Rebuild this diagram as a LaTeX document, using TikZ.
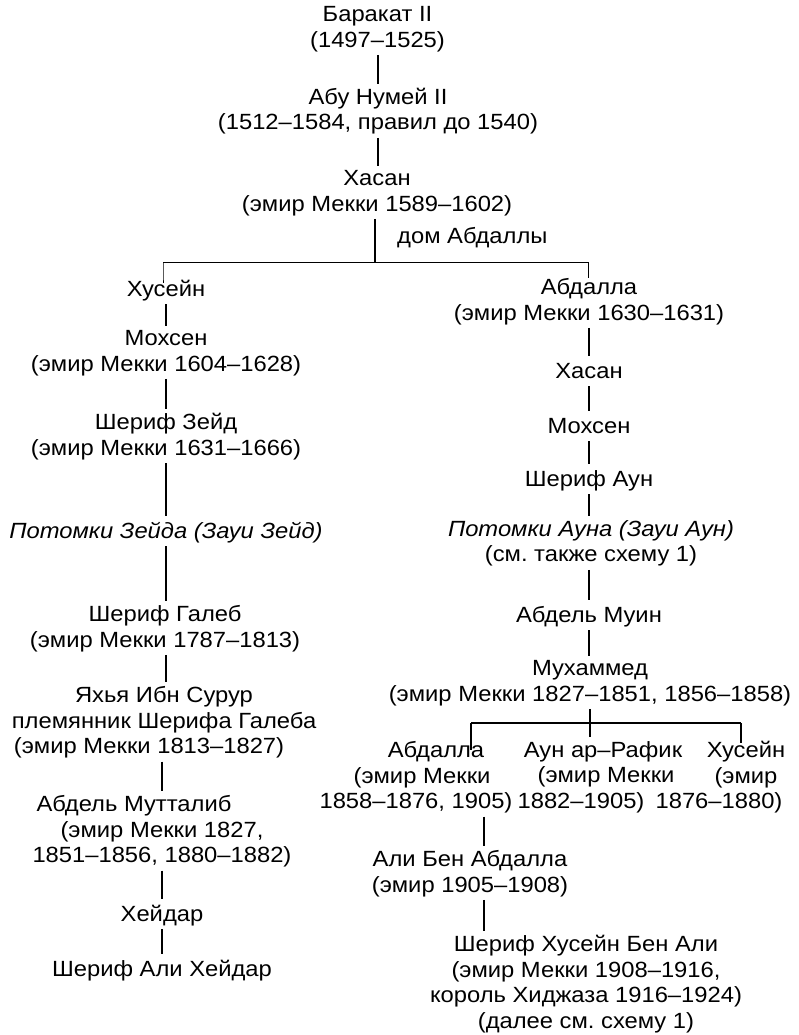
\documentclass[tikz,border=0pt]{standalone}
\usepackage{fontspec}
\setmainfont{Liberation Sans}[FakeStretch=1.08]
\setlength{\lineskiplimit}{-100pt}
\frenchspacing
\begin{document}
\begin{tikzpicture}[x=1pt,y=-1pt,
  every node/.style={font=\fontsize{22}{25.7}\selectfont\frenchspacing,
    align=center, inner sep=0pt, anchor=north,
    execute at begin node=\strut, execute at end node=\strut},
  conn/.style={line width=2pt, shorten >=4pt},
  forktop/.style={line width=1pt},
  forklow/.style={line width=1.5pt}]
\useasboundingbox (0,0) rectangle (798,1035);

% top chain
\node (bar) at (377.5,6) {Баракат II\\(1497–1525)};
\node (abu) at (378,87.7) {Абу Нумей II\\(1512–1584, правил до 1540)};
\node (hasan) at (377,170) {Хасан\\(эмир Мекки 1589–1602)};
\node[anchor=base west] (dom) at (397,243) {дом Абдаллы};

% left branch
\node (husL) at (166,278) {Хусейн};
\node (mohL) at (166,330) {Мохсен\\(эмир Мекки 1604–1628)};
\node (zeid) at (166,413) {Шериф Зейд\\(эмир Мекки 1631–1666)};
\node (potZ) at (166,520) {\textit{Потомки Зейда (Зауи Зейд)}};
\node (galeb) at (165,605) {Шериф Галеб\\(эмир Мекки 1787–1813)};
\node (yahya) at (164,686) {Яхья Ибн Сурур\\племянник Шерифа Галеба\\(эмир Мекки 1813–1827)\hspace*{30pt}};
\node (mut) at (162,795) {Абдель Мутталиб\hspace*{56pt}\\(эмир Мекки 1827,\\1851–1856, 1880–1882)};
\node (heid) at (162,903) {Хейдар};
\node (aliH) at (162,958) {Шериф Али Хейдар};

% right branch
\node (abd) at (589,278) {Абдалла\\(эмир Мекки 1630–1631)};
\node (hasR) at (589,360) {Хасан};
\node (mohR) at (589,415) {Мохсен};
\node (aun) at (589,468) {Шериф Аун};
\node (potA) at (591,520) {\textit{Потомки Ауна (Зауи Аун)}\\(см. также схему 1)};
\node (muin) at (589,604) {Абдель Муин};
\node (muh) at (590,660) {Мухаммед\\(эмир Мекки 1827–1851, 1856–1858)};
\node (abd2) at (416,741) {\hspace*{40pt}Абдалла\\\hspace*{12pt}(эмир Мекки\\1858–1876, 1905)};
\node (aunR) at (603,741) {Аун ар–Рафик\\\hspace*{6pt}(эмир Мекки\\1882–1905)\hspace*{44pt}};
\node (husR) at (746,741) {Хусейн\\(эмир\\1876–1880)\hspace*{54pt}};
\node (aliBA) at (470,850) {Али Бен Абдалла\\(эмир 1905–1908)};
\node (sharif) at (586,935) {Шериф Хусейн Бен Али\\(эмир Мекки 1908–1916,\\король Хиджаза 1916–1924)\\(далее см. схему 1)};

% connectors: top chain
\draw[conn] (bar.south) -- (bar.south |- abu.north);
\draw[conn] (abu.south) -- (abu.south |- hasan.north);

% first fork
\coordinate (f1m) at (375,262);
\coordinate (f1l) at (163,262);
\coordinate (f1r) at (588,262);
\draw[conn, shorten >=0pt] (hasan.south -| f1m) -- (f1m);
\draw[forktop] (f1l) -- (f1r);
\draw[forktop] (f1l) -- (f1l |- husL.north) -- ++(0,5);
\draw[forktop] (f1r) -- (f1r |- abd.north);

% left chain
\draw[conn] (husL.south) -- (husL.south |- mohL.north);
\draw[conn] (mohL.south) -- (mohL.south |- zeid.north);
\draw[conn] (zeid.south) -- (zeid.south |- potZ.north);
\draw[conn] (potZ.south) -- (potZ.south |- galeb.north);
\draw[conn] (potZ.south |- galeb.south) -- (potZ.south |- yahya.north);
\draw[conn] (mut.north |- yahya.south) -- (mut.north);
\draw[conn] (mut.south) -- (heid.north);
\draw[conn] (heid.south) -- (aliH.north);

% right chain
\draw[conn] (abd.south) -- (hasR.north);
\draw[conn] (hasR.south) -- (mohR.north);
\draw[conn] (mohR.south) -- (aun.north);
\draw[conn] (aun.south) -- (aun.south |- potA.north);
\draw[conn] (aun.south |- potA.south) -- (muin.north);
\draw[conn] (muin.south) -- (muin.south |- muh.north);

% second fork
\coordinate (f2m) at (590,723);
\coordinate (f2l) at (471,723);
\coordinate (f2r) at (741,723);
\draw[conn, shorten >=0pt] (muh.south -| f2m) -- (f2m) -- ++(0,14);
\draw[forklow] (f2l) -- (f2r);
\draw[forklow] (f2l) -- (f2l |- abd2.north) -- ++(0,9);
\draw[forklow] (f2r) -- (f2r |- husR.north) -- ++(0,2);

% lower chain
\draw[conn] ([xshift=68pt]abd2.south) -- ([xshift=14pt]aliBA.north);
\draw[conn] ([xshift=14pt]aliBA.south) -- ([xshift=-102pt]sharif.north);
\end{tikzpicture}
\end{document}
